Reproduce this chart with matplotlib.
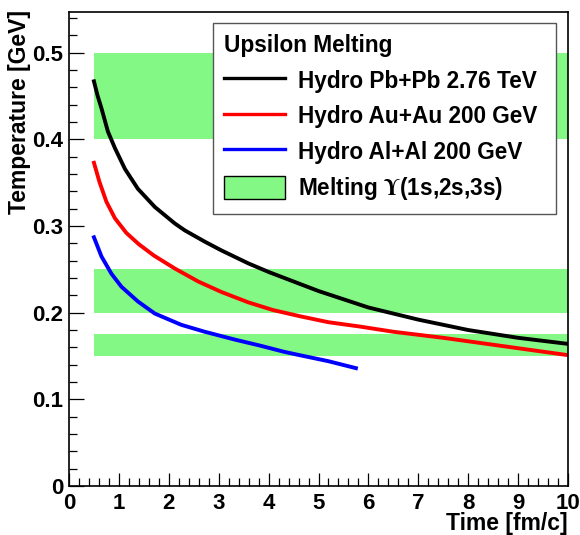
import matplotlib
matplotlib.use("Agg")
import matplotlib.pyplot as plt
from matplotlib.lines import Line2D
from matplotlib.patches import Patch
from matplotlib.ticker import MultipleLocator, FuncFormatter

plt.rcParams["font.family"] = ["Liberation Sans", "DejaVu Sans"]
plt.rcParams["font.weight"] = "bold"
plt.rcParams["mathtext.fontset"] = "stix"

# hydro temperature curves
t_pbpb = [0.5, 0.57, 0.65, 0.78, 0.92, 1.12, 1.38, 1.72, 2.12, 2.32, 2.72, 3.05, 3.59, 4.0,
          5.0, 6.0, 7.0, 8.0, 9.0, 10.0]
T_pbpb = [0.467, 0.451, 0.436, 0.409, 0.390, 0.366, 0.343, 0.322, 0.303, 0.295, 0.282, 0.272,
          0.257, 0.247, 0.225, 0.206, 0.192, 0.180, 0.171, 0.164]

t_auau = [0.5, 0.61, 0.75, 0.92, 1.15, 1.4, 1.7, 2.12, 2.59, 3.05, 3.59, 4.09, 4.62, 5.2,
          5.83, 6.5, 7.5, 8.0, 9.0, 10.0]
T_auau = [0.373, 0.351, 0.328, 0.309, 0.292, 0.279, 0.266, 0.251, 0.236, 0.224, 0.212, 0.203,
          0.196, 0.189, 0.184, 0.178, 0.171, 0.167, 0.159, 0.151]

t_alal = [0.5, 0.65, 0.85, 1.05, 1.38, 1.72, 2.25, 2.72, 3.32, 3.83, 4.3, 4.62, 5.2, 5.75]
T_alal = [0.287, 0.265, 0.245, 0.230, 0.213, 0.199, 0.186, 0.178, 0.169, 0.162, 0.155, 0.151,
          0.144, 0.136]

# melting temperature bands
band_t = [0.5, 10.0]
band_lo = [0.40, 0.20, 0.15]
band_hi = [0.50, 0.25, 0.175]

labels = ["Hydro Pb+Pb 2.76 TeV", "Hydro Au+Au 200 GeV", "Hydro Al+Al 200 GeV",
          r"Melting $\Upsilon$(1s,2s,3s)"]
band_color = "#84f884"

fig = plt.figure(figsize=(5.8, 5.35), dpi=100)
ax = fig.add_axes([69 / 580, 49 / 535, 499 / 580, 474 / 535])

for lo, hi in zip(band_lo, band_hi):
    ax.fill_between(band_t, lo, hi, color=band_color, lw=0)

ax.plot(t_pbpb, T_pbpb, color="black", lw=2.8)
ax.plot(t_auau, T_auau, color="#ff0000", lw=2.8)
ax.plot(t_alal, T_alal, color="#0000ff", lw=2.8)

ax.set_xlim(0, 10)
ax.set_ylim(0, 0.547)
ax.xaxis.set_major_locator(MultipleLocator(1))
ax.xaxis.set_minor_locator(MultipleLocator(0.2))
ax.yaxis.set_major_locator(MultipleLocator(0.1))
ax.yaxis.set_minor_locator(MultipleLocator(0.02))
fmt = FuncFormatter(lambda v, p: f"{v:g}")
ax.xaxis.set_major_formatter(fmt)
ax.yaxis.set_major_formatter(fmt)
ax.tick_params(which="both", direction="in", top=False, right=False, width=0.9, labelsize=16)
ax.tick_params(axis="y", which="major", length=11, pad=4)
ax.tick_params(axis="x", which="major", length=9.5, pad=5)
ax.tick_params(which="minor", length=5.5)
for s in ax.spines.values():
    s.set_linewidth(1.2)

fig.text(20 / 580, 1 - 10 / 535, "Temperature [GeV]", rotation=90, ha="center", va="top",
         fontsize=16.5, fontweight="bold")
fig.text(568 / 580, 1 - 512 / 535, "Time [fm/c]", ha="right", va="top",
         fontsize=16.5, fontweight="bold")

handles = [Line2D([], [], color="black", lw=2.4),
           Line2D([], [], color="#ff0000", lw=2.4),
           Line2D([], [], color="#0000ff", lw=2.4),
           Patch(facecolor=band_color, edgecolor="black", lw=1)]
leg = ax.legend(handles, labels, title="Upsilon Melting", loc="upper left", mode="expand",
                bbox_to_anchor=(213 / 580, 1 - 207 / 535, 343 / 580, 184 / 535),
                bbox_transform=fig.transFigure,
                borderaxespad=0, fontsize=16.3, title_fontproperties={"size": 16.3, "weight": "bold"},
                alignment="left", frameon=True, fancybox=False, framealpha=1,
                edgecolor="#555555", handlelength=2.7, handleheight=1.2,
                handletextpad=0.55, labelspacing=0.5, borderpad=0.5)
leg.get_frame().set_linewidth(1.0)

plt.savefig("out.png", dpi=100)
plt.close()
